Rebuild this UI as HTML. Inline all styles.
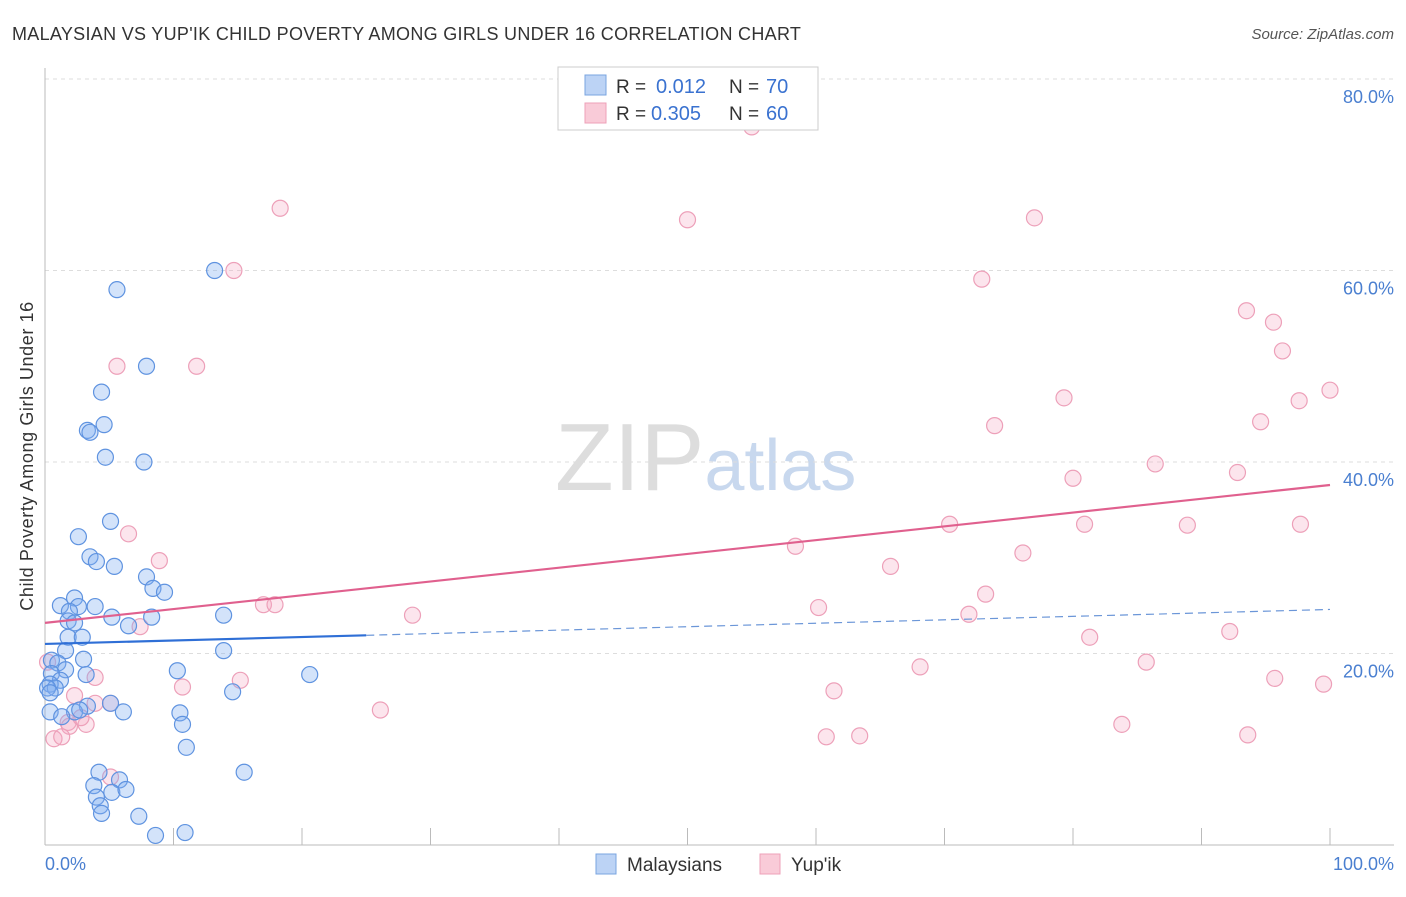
<!DOCTYPE html>
<html><head><meta charset="utf-8">
<style>
body{margin:0;background:#fff;font-family:"Liberation Sans",sans-serif;}
svg text{font-family:"Liberation Sans",sans-serif;}
</style></head>
<body>
<svg id="chart" width="1406" height="892" xmlns="http://www.w3.org/2000/svg">
<text x="12" y="40" font-size="18" fill="#333" letter-spacing="0.3">MALAYSIAN VS YUP'IK CHILD POVERTY AMONG GIRLS UNDER 16 CORRELATION CHART</text>
<text x="1394" y="39" font-size="15" fill="#555" text-anchor="end" font-style="italic">Source: ZipAtlas.com</text>
<text x="555" y="490" font-size="96" fill="#ddd" font-family="Liberation Serif">ZIP<tspan fill="#c8d8ee" font-family="Liberation Sans" font-size="72">atlas</tspan></text>
<g id="grid"></g>
<g id="axes"></g>
<g id="marks"></g>
<text transform="translate(33,456) rotate(-90)" font-size="18" fill="#333" text-anchor="middle" letter-spacing="0.6">Child Poverty Among Girls Under 16</text>
<text x="45" y="870" font-size="18" fill="#4a7fd0">0.0%</text>
<text x="1394" y="870" font-size="18" fill="#4a7fd0" text-anchor="end">100.0%</text>
<g>
<rect x="558" y="67" width="260" height="63" fill="#fff" stroke="#ccc"/>
<rect x="585" y="75" width="21" height="20" fill="#bcd3f5" stroke="#7aa5e0"/>
<rect x="585" y="103" width="21" height="20" fill="#f9cbd8" stroke="#eea0b8"/>
<text x="616" y="93" font-size="19" fill="#333">R =</text>
<text x="656" y="93" font-size="20" fill="#3a72d0">0.012</text>
<text x="729" y="93" font-size="19" fill="#333">N =</text>
<text x="766" y="93" font-size="20" fill="#3a72d0">70</text>
<text x="616" y="120" font-size="19" fill="#333">R =</text>
<text x="651" y="120" font-size="20" fill="#3a72d0">0.305</text>
<text x="729" y="120" font-size="19" fill="#333">N =</text>
<text x="766" y="120" font-size="20" fill="#3a72d0">60</text>
</g>
<g>
<rect x="596" y="854" width="20" height="20" fill="#bcd3f5" stroke="#7aa5e0"/>
<text x="627" y="871" font-size="19" fill="#333">Malaysians</text>
<rect x="760" y="854" width="20" height="20" fill="#f9cbd8" stroke="#eea0b8"/>
<text x="791" y="871" font-size="19" fill="#333">Yup'ik</text>
</g>
</svg>
<script>
const yTicks=[20,40,60,80];
const yTickLabels=["20.0%","40.0%","60.0%","80.0%"];
const blueX=[13.2,5.6,7.9,4.4,3.3,4.6,3.5,4.7,7.7,5.1,2.6,3.5,4.0,5.4,7.9,8.4,9.3,2.3,1.2,3.9,2.6,1.9,5.2,8.3,13.9,1.8,2.3,6.5,1.8,2.9,1.6,3.0,0.5,1.0,13.9,10.3,20.6,1.6,3.2,0.5,1.2,0.4,0.8,0.2,0.4,14.6,3.3,2.3,2.7,5.1,6.1,10.5,0.4,1.3,10.7,11.0,4.2,15.5,5.8,3.8,5.2,6.3,4.0,4.3,4.4,7.3,8.6,10.9];
const blueY=[60.0,58.0,50.0,47.3,43.3,43.9,43.1,40.5,40.0,33.8,32.2,30.1,29.6,29.1,28.0,26.8,26.4,25.8,25.0,24.9,24.9,24.4,23.8,23.8,24.0,23.4,23.2,22.9,21.7,21.7,20.3,19.4,19.3,19.0,20.3,18.2,17.8,18.3,17.8,17.9,17.2,16.8,16.4,16.4,15.9,16.0,14.5,13.9,14.1,14.8,13.9,13.8,13.9,13.4,12.6,10.2,7.6,7.6,6.8,6.2,5.5,5.8,5.0,4.1,3.3,3.0,1.0,1.3];
const pinkX=[55.0,18.3,50.0,77.0,14.7,72.9,93.5,95.6,96.3,5.6,11.8,100.0,79.3,97.6,73.9,94.6,86.4,80.0,92.8,70.4,80.9,88.9,97.7,6.5,8.9,58.4,76.1,65.8,73.2,17.0,17.9,28.6,60.2,71.9,7.4,81.3,92.2,0.2,85.7,68.1,3.9,10.7,15.2,61.4,95.7,99.5,2.3,3.9,5.1,26.1,1.8,3.2,1.9,83.8,60.8,63.4,93.6,0.7,1.3,5.1,2.8];
const pinkY=[75.0,66.5,65.3,65.5,60.0,59.1,55.8,54.6,51.6,50.0,50.0,47.5,46.7,46.4,43.8,44.2,39.8,38.3,38.9,33.5,33.5,33.4,33.5,32.5,29.7,31.2,30.5,29.1,26.2,25.1,25.1,24.0,24.8,24.1,22.8,21.7,22.3,19.1,19.1,18.6,17.5,16.5,17.2,16.1,17.4,16.8,15.6,14.8,14.8,14.1,12.8,12.6,12.4,12.6,11.3,11.4,11.5,11.1,11.3,7.1,13.3];
const blueTrend=[21.0,24.6];
const pinkTrend=[23.2,37.6];
const NS="http://www.w3.org/2000/svg";
function sx(v){return 45+v*12.85;}
function sy(v){return 845-v*9.575;}
function mk(tag,attrs,parent){const e=document.createElementNS(NS,tag);for(const k in attrs)e.setAttribute(k,attrs[k]);parent.appendChild(e);return e;}
const grid=document.getElementById('grid'),axes=document.getElementById('axes'),marks=document.getElementById('marks');
yTicks.forEach((t,i)=>{
 const l=mk('line',{x1:45,x2:1394,y1:sy(t),y2:sy(t),stroke:'#ddd','stroke-dasharray':'4,4'},grid);
 
 
 const tx=mk('text',{x:1394,y:sy(t)+24,'font-size':18,fill:'#4a7fd0','text-anchor':'end'},axes);
 tx.textContent=yTickLabels[i];
 
 
});
const ax=mk('line',{x1:45,x2:45,y1:68,y2:845,stroke:'#bbb'},axes);


const bx=mk('line',{x1:45,x2:1394,y1:845,y2:845,stroke:'#bbb'},axes);


for(let i=1;i<=10;i++){
 const t=mk('line',{x1:sx(i*10),x2:sx(i*10),y1:828,y2:845,stroke:'#bbb'},axes);
 
 
}
function dots(X,Y,fill,stroke,name){
 X.forEach((x,i)=>{
  const c=mk('circle',{cx:sx(x),cy:sy(Y[i]),r:8,fill:fill,stroke:stroke,'stroke-width':1.2},marks);
  
  
 });
}
dots(pinkX,pinkY,'rgba(246,170,195,0.3)','#eda0b9','yupik-point');
dots(blueX,blueY,'rgba(130,175,240,0.35)','#5f93e0','malaysian-point');
function at(tr,x){return tr[0]+(tr[1]-tr[0])*x/100;}
const b1=mk('line',{x1:sx(0),y1:sy(at(blueTrend,0)),x2:sx(25),y2:sy(at(blueTrend,25)),stroke:'#2f6fd6','stroke-width':2.2},marks);


const b2=mk('line',{x1:sx(25),y1:sy(at(blueTrend,25)),x2:sx(100),y2:sy(at(blueTrend,100)),stroke:'#6b96d8','stroke-width':1.2,'stroke-dasharray':'8,5'},marks);


const p1=mk('line',{x1:sx(0),y1:sy(at(pinkTrend,0)),x2:sx(100),y2:sy(at(pinkTrend,100)),stroke:'#e0608e','stroke-width':2.2},marks);


</script>
</body></html>
